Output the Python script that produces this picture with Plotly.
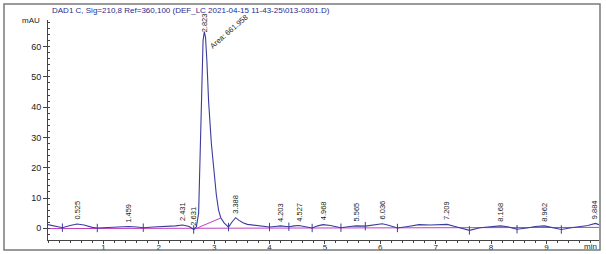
import numpy as np
import plotly.graph_objects as go

# Chromatogram trace (time in min, signal in mAU)
time_min = [0.00, 0.12, 0.26, 0.40, 0.525, 0.65, 0.80, 0.89, 1.10, 1.30, 1.459, 1.60, 1.72,
            1.90, 2.10, 2.30, 2.431, 2.55, 2.631, 2.68, 2.72, 2.75, 2.78, 2.80, 2.823, 2.845,
            2.87, 2.90, 2.95, 2.99, 3.04, 3.08, 3.12, 3.18, 3.26, 3.32, 3.388, 3.45, 3.52,
            3.60, 3.75, 3.90, 4.00, 4.10, 4.203, 4.30, 4.35, 4.45, 4.527, 4.65, 4.77, 4.87,
            4.968, 5.10, 5.29, 5.45, 5.565, 5.73, 5.90, 6.036, 6.15, 6.31, 6.50, 6.70, 6.90,
            7.10, 7.209, 7.35, 7.50, 7.61, 7.80, 8.00, 8.168, 8.30, 8.47, 8.65, 8.80, 8.962,
            9.10, 9.27, 9.45, 9.60, 9.75, 9.884, 9.95]
signal_mau = [1.2, 0.7, 0.2, 0.9, 1.4, 1.1, 0.3, 0.1, 0.3, 0.5, 0.6, 0.4, 0.2,
              0.4, 0.5, 0.8, 1.1, 0.6, -0.4, 0.5, 5.0, 25.0, 50.0, 62.0, 65.0, 63.0,
              55.0, 42.0, 28.0, 20.0, 11.0, 6.0, 3.5, 1.8, 0.4, 2.0, 3.5, 2.6, 1.8,
              1.3, 0.9, 0.6, 0.4, 0.6, 0.8, 0.6, 0.5, 0.8, 0.9, 0.5, 0.1, 0.8,
              1.2, 0.9, 0.2, 0.6, 0.8, 0.7, 1.2, 1.5, 1.0, 0.1, 0.6, 1.2, 1.1,
              1.2, 1.3, 0.6, -0.3, -0.7, 0.2, 0.6, 0.8, 0.5, -0.3, 0.1, 0.6, 0.8,
              0.3, -0.4, 0.2, 0.5, 0.9, 1.6, 1.2]

# Peak retention times and apex heights
peak_rt = [0.525, 1.459, 2.431, 2.631, 2.823, 3.388, 4.203, 4.527, 4.968, 5.565,
           6.036, 7.209, 8.168, 8.962, 9.884]
peak_height = [1.4, 0.6, 1.1, -0.4, 65.0, 3.5, 0.8, 0.9, 1.2, 0.8,
               1.5, 1.3, 0.8, 0.8, 1.6]
peak_labels = ["0.525", "1.459", "2.431", "2.631", "2.823", "3.388", "4.203", "4.527",
               "4.968", "5.565", "6.036", "7.209", "8.168", "8.962", "9.884"]

# Integration boundaries (min)
boundary_t = [0.26, 0.89, 1.72, 2.631, 3.26, 4.00, 4.35, 4.77, 5.29, 5.73, 6.31, 7.61, 8.47, 9.27]

# Baselines
baseline_t = [0.0, 9.95]
baseline_v = [-0.1, 0.3]
main_base_t = [2.631, 3.12]
main_base_v = [-0.4, 3.4]

area_text = "Area: 661.958"
title_text = "DAD1 C, Sig=210,8 Ref=360,100 (DEF_LC 2021-04-15 11-43-25\\013-0301.D)"

FONT = "Liberation Sans, Arial, sans-serif"
TRACE = "#3c3c9c"
BASE = "#c040c0"

fig = go.Figure()
fig.add_trace(go.Scatter(x=baseline_t, y=baseline_v, mode="lines",
                         line=dict(color=BASE, width=1), hoverinfo="skip"))
fig.add_trace(go.Scatter(x=main_base_t, y=main_base_v, mode="lines",
                         line=dict(color=BASE, width=1), hoverinfo="skip"))
fig.add_trace(go.Scatter(x=time_min, y=signal_mau, mode="lines",
                         line=dict(color=TRACE, width=1.1)))
bnd_y = np.interp(boundary_t, time_min, signal_mau)
fig.add_trace(go.Scatter(x=boundary_t, y=bnd_y, mode="markers",
                         marker=dict(symbol="line-ns", size=6,
                                     line=dict(color=TRACE, width=1)),
                         hoverinfo="skip"))

for rt, h, lab in zip(peak_rt, peak_height, peak_labels):
    shift = -3 if h > 30 else 2
    fig.add_annotation(x=rt, y=h, text=lab, textangle=-90, showarrow=False,
                       xanchor="center", yanchor="bottom", yshift=shift,
                       font=dict(family=FONT, size=7.5, color="#222222"))

fig.add_annotation(x=2.84, y=58, text=area_text, textangle=-41, showarrow=False,
                   xanchor="left", yanchor="bottom",
                   font=dict(family=FONT, size=7.5, color="#222222"))

W, H = 606, 254
L, R, T, B = 48, 7, 20, 14
pw, ph = W - L - R, H - T - B

fig.add_annotation(xref="paper", yref="paper", x=(42 - L) / pw, y=1, text="mAU",
                   showarrow=False, xanchor="right", yanchor="middle",
                   font=dict(family=FONT, size=8, color="#222222"))
fig.add_annotation(xref="paper", yref="paper", x=1, y=-6 / ph, text="min",
                   showarrow=False, xanchor="right", yanchor="middle",
                   font=dict(family=FONT, size=8, color="#222222"))
fig.add_annotation(xref="paper", yref="paper", x=(50 - L) / pw, y=(T - 10) / ph + 1,
                   text=title_text, showarrow=False, xanchor="left", yanchor="middle",
                   font=dict(family=FONT, size=8, color="#2b2b8c"))

fig.add_shape(type="rect", xref="paper", yref="paper",
              x0=(4 - L) / pw, x1=(600 - L) / pw,
              y0=-(250 - (T + ph)) / ph, y1=1 + (T - 4) / ph,
              line=dict(color="#7a7a7a", width=1.5), fillcolor="rgba(0,0,0,0)")

fig.update_layout(
    width=W, height=H, margin=dict(l=L, r=R, t=T, b=B, autoexpand=False),
    paper_bgcolor="white", plot_bgcolor="white", showlegend=False,
    xaxis=dict(range=[0, 9.95], tickvals=[1, 2, 3, 4, 5, 6, 7, 8, 9], automargin=False,
               showline=True, linecolor="#444444", linewidth=1, showgrid=False,
               zeroline=False, ticks="outside", ticklen=3, tickcolor="#444444",
               ticklabelstandoff=-4,
               tickfont=dict(family=FONT, size=8, color="#222222"),
               minor=dict(dtick=0.2, tick0=0, ticks="outside", ticklen=2,
                          tickcolor="#444444", showgrid=False)),
    yaxis=dict(range=[-3.87, 68.8], tickvals=[0, 10, 20, 30, 40, 50, 60], automargin=False,
               showline=True, linecolor="#444444", linewidth=1, showgrid=False,
               zeroline=False, ticks="outside", ticklen=4, tickcolor="#444444",
               tickfont=dict(family=FONT, size=9, color="#222222"),
               minor=dict(dtick=2, tick0=0, ticks="inside", ticklen=2,
                          tickcolor="#444444", showgrid=False)),
)

fig.write_html("out.html")
